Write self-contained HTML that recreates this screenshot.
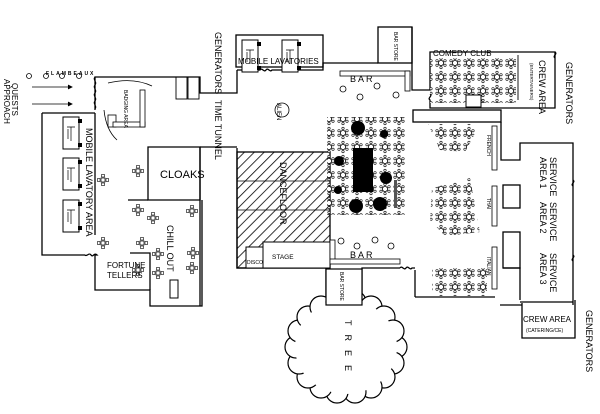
<!DOCTYPE html>
<html><head><style>html,body{margin:0;padding:0;background:#fff}svg{display:block}</style></head><body>
<svg width="600" height="414" viewBox="0 0 600 414" xmlns="http://www.w3.org/2000/svg" font-family="Liberation Sans, sans-serif">
<defs>
<g id="rt"><circle r="2.6" fill="#fff" stroke="#000" stroke-width="0.8"/>
<g fill="#fff" stroke="#000" stroke-width="0.6"><circle cx="0" cy="-4.6" r="1.2"/><circle cx="4" cy="-2.3" r="1.2"/><circle cx="4" cy="2.3" r="1.2"/><circle cx="0" cy="4.6" r="1.2"/><circle cx="-4" cy="2.3" r="1.2"/><circle cx="-4" cy="-2.3" r="1.2"/></g></g>
<pattern id="tp" width="14" height="14" patternUnits="userSpaceOnUse"><use href="#rt" x="7" y="7"/></pattern>
<pattern id="hatch" width="7" height="7" patternUnits="userSpaceOnUse" patternTransform="rotate(45)"><line x1="0" y1="0" x2="0" y2="7" stroke="#000" stroke-width="1.6"/></pattern>
<g id="sq"><rect x="-2" y="-2" width="4" height="4" fill="#fff" stroke="#000" stroke-width="0.7"/><g fill="#fff" stroke="#000" stroke-width="0.6"><rect x="-1.5" y="-5.5" width="3" height="2.5"/><rect x="-1.5" y="3" width="3" height="2.5"/><rect x="-5.5" y="-1.5" width="2.5" height="3"/><rect x="3" y="-1.5" width="2.5" height="3"/></g></g>
<g id="lav"><rect x="0" y="0" width="16" height="32" fill="#fff" stroke="#000"/><rect x="15" y="2" width="4" height="4" fill="#000"/><rect x="15" y="26" width="4" height="4" fill="#000"/><path d="M4 10h8M8 10v14M5 12v10" stroke="#000" stroke-width="0.7" fill="none"/></g>
</defs>
<g fill="none" stroke="#000" stroke-width="1.3">
<path d="M42 113H95M42 113V255H85"/>
<path d="M95 110V77H200V93H237V70"/>
<path d="M95 77c-3 3 3 5 0 8s3 5 0 8 3 5 0 8 3 5 0 8" stroke-width="0.9"/>
<path d="M95 113V235"/>
<path d="M85 255c2 2 4 -3 6 0s3 -3 6 0H95V290H150V306H202V200"/>
<rect x="176" y="77" width="11" height="22" stroke-width="0.9"/><rect x="188" y="77" width="11" height="22" stroke-width="0.9"/>
<rect x="236" y="35" width="87" height="32"/>
<path d="M237 70H260c2-3 4 3 6 0s4 3 6 0H323V63H378"/>
<rect x="378" y="27" width="34" height="36"/>
<path d="M412 27V90H430V52H555V108H430V100c-3-2 3-4 0-6"/>
<path d="M518 55V100" stroke-width="0.9"/>
<path d="M555 52c3 2-3 4 0 6"/>
<rect x="413" y="110" width="88" height="12"/>
<path d="M501 122V160H520V143H573V305"/>
<path d="M573 180c3 2-3 4 0 6M573 255c3 2-3 4 0 6"/>
<path d="M520 302H573M522 303V338H575V300"/>
<path d="M500 305H522M415 297H495"/>
<path d="M415 270V297"/>
<rect x="503" y="185" width="17" height="23"/><rect x="503" y="232" width="17" height="36"/>
<path d="M503 268H520V300"/>
<path d="M200 147V306"/>
<path d="M148 147H200V200H148Z"/>
<path d="M237 147H200"/>
<path d="M237 148V268H330"/>
<path d="M326 268V305H362V268H400"/>
<path d="M400 268c2-3 4 3 6 0s4 3 6 0H415"/>
<path d="M128 200H148M130 253H150V290"/>
</g>
<rect x="237" y="152" width="93" height="116" fill="url(#hatch)" stroke="#000" stroke-width="1.3"/>
<path d="M237 181H330M237 210H330" stroke="#000" stroke-width="0.8"/>
<rect x="263" y="242" width="67" height="26" fill="#fff" stroke="#000" stroke-width="1"/>
<rect x="246" y="247" width="17" height="21" fill="#fff" stroke="#000" stroke-width="1"/>
<g fill="#fff" stroke="#000" stroke-width="1.2">
<circle cx="396" cy="347" r="11"/><circle cx="393" cy="363" r="11"/><circle cx="384" cy="377" r="11"/><circle cx="371" cy="387" r="11"/><circle cx="355" cy="392" r="11"/><circle cx="337" cy="392" r="11"/><circle cx="321" cy="387" r="11"/><circle cx="308" cy="377" r="11"/><circle cx="299" cy="363" r="11"/><circle cx="296" cy="347" r="11"/><circle cx="299" cy="331" r="11"/><circle cx="308" cy="317" r="11"/><circle cx="321" cy="307" r="11"/><circle cx="337" cy="302" r="11"/><circle cx="355" cy="302" r="11"/><circle cx="371" cy="307" r="11"/><circle cx="384" cy="317" r="11"/><circle cx="393" cy="331" r="11"/>
</g>
<ellipse cx="346" cy="347" rx="51" ry="47" fill="#fff"/>
<rect x="326" y="269" width="36" height="36" fill="#fff" stroke="#000" stroke-width="1.2"/>
<rect x="327" y="117" width="78" height="98" fill="url(#tp)"/>
<rect x="353" y="148" width="20" height="44" fill="#000"/>
<g fill="#000"><circle cx="358" cy="128" r="7"/><circle cx="384" cy="134" r="4"/><circle cx="339" cy="161" r="5"/><circle cx="386" cy="178" r="6"/><circle cx="338" cy="190" r="4"/><circle cx="356" cy="206" r="7"/><circle cx="380" cy="204" r="7"/></g>
<rect x="430" y="58" width="86" height="45" fill="url(#tp)"/>
<rect x="466" y="95" width="15" height="12" fill="#fff" stroke="#000"/>
<polygon points="428,124 480,124 465,152 440,150" fill="url(#tp)"/>
<polygon points="432,188 470,178 480,232 445,236 430,220" fill="url(#tp)"/>
<rect x="432" y="268" width="55" height="28" fill="url(#tp)"/>
<rect x="108" y="115" width="8" height="12" fill="none" stroke="#000" stroke-width="0.8"/>
<g fill="#fff" stroke="#000" stroke-width="0.8">
<rect x="340" y="71" width="70" height="5"/><rect x="405" y="71" width="5" height="20"/>
<rect x="330" y="240" width="5" height="22"/><rect x="330" y="259" width="70" height="5"/>
<rect x="492" y="126" width="5" height="44"/><rect x="492" y="186" width="5" height="40"/><rect x="492" y="247" width="5" height="42"/>
<rect x="113" y="122" width="32" height="5"/><rect x="140" y="90" width="5" height="37"/>
<circle cx="343" cy="89" r="3"/><circle cx="360" cy="97" r="3"/><circle cx="377" cy="86" r="3"/><circle cx="396" cy="95" r="3"/>
<circle cx="341" cy="241" r="3"/><circle cx="357" cy="246" r="3"/><circle cx="375" cy="240" r="3"/><circle cx="391" cy="246" r="3"/>
<circle cx="282" cy="110" r="7"/>
</g>
<rect x="394" y="180" width="3" height="28" fill="#555"/>
<use href="#lav" x="63" y="117"/><use href="#lav" x="63" y="158"/><use href="#lav" x="63" y="200"/>
<use href="#lav" x="242" y="40"/><use href="#lav" x="282" y="40"/>
<use href="#sq" x="103" y="180"/><use href="#sq" x="138" y="171"/><use href="#sq" x="103" y="243"/><use href="#sq" x="142" y="243"/>
<use href="#sq" x="138" y="210"/><use href="#sq" x="153" y="218"/><use href="#sq" x="158" y="254"/><use href="#sq" x="158" y="273"/>
<use href="#sq" x="192" y="211"/><use href="#sq" x="193" y="253"/><use href="#sq" x="192" y="268"/><use href="#sq" x="138" y="270"/>
<rect x="170" y="280" width="8" height="18" fill="#fff" stroke="#000"/>
<g fill="#000">
<text x="160" y="178" font-size="11">CLOAKS</text>
<text x="107" y="268" font-size="8">FORTUNE</text><text x="107" y="278" font-size="8">TELLERS</text>
<text x="272" y="259" font-size="6.5">STAGE</text><text x="247" y="264" font-size="5">DISCO</text>
<text x="238" y="64" font-size="8">MOBILE  LAVATORIES</text>
<text x="433" y="56" font-size="8">COMEDY CLUB</text>
<text x="350" y="82" font-size="9">B    A    R</text>
<text x="350" y="258" font-size="9">B    A    R</text>
<text x="523" y="322" font-size="8">CREW AREA</text><text x="526" y="332" font-size="5">(CATERING/CE)</text>
<text x="46" y="75" font-size="5" font-weight="bold" letter-spacing="2">FLAMBEAUX</text>
</g>
<g font-size="9" fill="#000">
<text transform="translate(215,32) rotate(90)">GENERATORS</text>
<text transform="translate(215,100) rotate(90)">TIME  TUNNEL</text>
<text transform="translate(86,128) rotate(90)">MOBILE  LAVATORY  AREA</text>
<text transform="translate(167,225) rotate(90)">CHILL  OUT</text>
<text transform="translate(280,162) rotate(90)">DANCEFLOOR</text>
<text transform="translate(566,62) rotate(90)">GENERATORS</text>
<text transform="translate(586,310) rotate(90)">GENERATORS</text>
<text transform="translate(539,60) rotate(90)">CREW AREA</text>
<text transform="translate(550,157) rotate(90)">SERVICE</text><text transform="translate(540,157) rotate(90)">AREA  1</text>
<text transform="translate(550,202) rotate(90)">SERVICE</text><text transform="translate(540,202) rotate(90)">AREA  2</text>
<text transform="translate(550,253) rotate(90)">SERVICE</text><text transform="translate(540,253) rotate(90)">AREA  3</text>
<text transform="translate(12,83) rotate(90)" font-size="8">QUESTS</text><text transform="translate(4,79) rotate(90)" font-size="8">APPROACH</text>
<text transform="translate(345,320) rotate(90)" letter-spacing="9">TREE</text>
<text transform="translate(277,103) rotate(90)" font-size="6">ALIEN</text>
<text transform="translate(530,63) rotate(90)" font-size="4.5">(ENTERTAINERS)</text>
<text transform="translate(394,32) rotate(90)" font-size="5">BAR STORE</text>
<text transform="translate(340,272) rotate(90)" font-size="5">BAR STORE</text>
<text transform="translate(124,90) rotate(90)" font-size="5">BADGING AREA</text>
<text transform="translate(487,135) rotate(90)" font-size="5">FRENCH</text>
<text transform="translate(487,198) rotate(90)" font-size="5">THAI</text>
<text transform="translate(487,257) rotate(90)" font-size="5">ITALIAN</text>
</g>
<g fill="none" stroke="#000" stroke-width="0.8">
<circle cx="29" cy="76" r="2.5"/><circle cx="46" cy="76" r="2.5"/><circle cx="62" cy="76" r="2.5"/><circle cx="79" cy="76" r="2.5"/>
<path d="M32 87H72M32 104H72"/><path d="M68 85l4 2-4 2M68 102l4 2-4 2" fill="#000"/>
<path d="M108 83q25-6 44 3M104 110q2 20 13 30"/>
</g>
</svg>
</body></html>
